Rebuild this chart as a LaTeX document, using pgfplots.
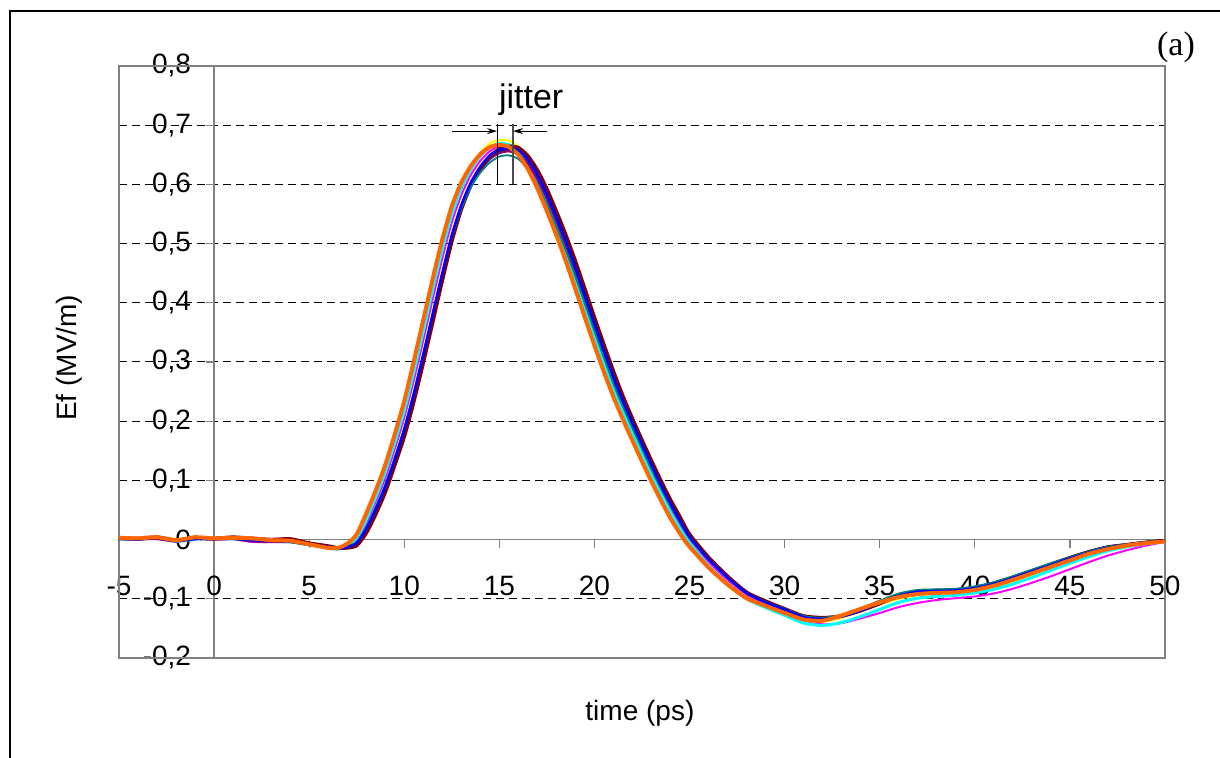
\documentclass[border=0pt]{standalone}
\usepackage{fontspec}
\setmainfont{Liberation Sans}
\newfontfamily\timesfont{Liberation Serif}
\usepackage{pgfplots}
\usepackage{pgfplotstable}
\pgfplotsset{compat=1.18}
\usetikzlibrary{arrows.meta}

\definecolor{xnavy}{HTML}{000080}
\definecolor{xmagenta}{HTML}{FF00FF}
\definecolor{xyellow}{HTML}{FFFF00}
\definecolor{xcyan}{HTML}{00FFFF}
\definecolor{xpurple}{HTML}{800080}
\definecolor{xmaroon}{HTML}{800000}
\definecolor{xteal}{HTML}{008080}
\definecolor{xblue}{HTML}{0000FF}
\definecolor{xorange}{HTML}{FF6600}

% Ef (MV/m) per shot, time in ps
\pgfplotstableread{
t     O      Y      C      M      T      P      N      B      R
-5    0.003  0.002  0.001  0.002  0.001  0.002  0.001  0.002  0.002
-4    0.002  0.000  0.002  0.001  0.000  0.001  0.001  0.000  0.002
-3    0.004  0.002  0.003  0.002  0.003  0.001  0.002  0.003  0.004
-2   -0.001 -0.002 -0.003 -0.002 -0.001 -0.003 -0.002 -0.002 -0.001
-1    0.004  0.002  0.001  0.002  0.002  0.001  0.002  0.001  0.003
0     0.002  0.000  0.001  0.000  0.001  0.000  0.001  0.002  0.002
1     0.003  0.002  0.001  0.001  0.002  0.001  0.002  0.002  0.004
2     0.002  0.001 -0.001 -0.004  0.000 -0.003  0.000 -0.001  0.002
3    -0.001 -0.002 -0.003 -0.004 -0.002 -0.004 -0.002 -0.002  0.000
4    -0.002 -0.003 -0.004 -0.004 -0.003 -0.004 -0.003 -0.003  0.001
5    -0.008 -0.008 -0.009 -0.009 -0.008 -0.009 -0.008 -0.008 -0.006
6    -0.014 -0.013 -0.014 -0.013 -0.012 -0.013 -0.012 -0.012 -0.011
6.5  -0.014 -0.015 -0.016 -0.015 -0.015 -0.016 -0.015 -0.015 -0.014
7    -0.007 -0.009 -0.009 -0.010 -0.011 -0.012 -0.013 -0.013 -0.014
7.5   0.009  0.003  0.003  0.000 -0.004 -0.006 -0.007 -0.006 -0.010
8     0.044  0.035  0.034  0.028  0.021  0.019  0.016  0.018  0.011
8.5   0.083  0.072  0.072  0.064  0.055  0.052  0.048  0.051  0.043
9     0.126  0.115  0.114  0.104  0.093  0.090  0.086  0.089  0.080
9.5   0.178  0.165  0.164  0.153  0.139  0.136  0.132  0.135  0.126
10    0.234  0.220  0.218  0.206  0.189  0.186  0.181  0.185  0.174
10.5  0.301  0.286  0.283  0.269  0.249  0.245  0.240  0.245  0.233
11    0.371  0.356  0.352  0.337  0.315  0.311  0.306  0.312  0.299
11.5  0.441  0.427  0.423  0.407  0.383  0.380  0.376  0.381  0.368
12    0.507  0.495  0.490  0.475  0.450  0.448  0.444  0.450  0.438
12.5  0.563  0.555  0.549  0.536  0.511  0.511  0.508  0.514  0.504
13    0.603  0.599  0.593  0.582  0.559  0.561  0.560  0.565  0.558
13.5  0.631  0.631  0.625  0.616  0.595  0.598  0.598  0.603  0.598
14    0.651  0.654  0.648  0.640  0.620  0.624  0.625  0.630  0.627
14.5  0.663  0.669  0.662  0.656  0.637  0.643  0.645  0.649  0.647
15    0.667  0.675  0.669  0.665  0.647  0.653  0.656  0.659  0.660
15.5  0.663  0.674  0.667  0.665  0.649  0.656  0.659  0.662  0.664
16    0.650  0.664  0.658  0.657  0.643  0.651  0.655  0.658  0.662
16.5  0.626  0.643  0.636  0.638  0.626  0.635  0.640  0.642  0.648
17    0.593  0.612  0.606  0.609  0.600  0.609  0.615  0.617  0.624
17.5  0.555  0.574  0.569  0.573  0.566  0.576  0.582  0.583  0.592
18    0.514  0.534  0.529  0.534  0.528  0.538  0.545  0.545  0.554
18.5  0.470  0.490  0.485  0.492  0.488  0.497  0.504  0.504  0.514
19    0.423  0.444  0.439  0.446  0.444  0.453  0.460  0.460  0.470
19.5  0.375  0.395  0.391  0.398  0.398  0.406  0.413  0.412  0.423
20    0.328  0.347  0.344  0.351  0.352  0.360  0.366  0.365  0.375
20.5  0.283  0.301  0.298  0.306  0.307  0.314  0.320  0.319  0.329
21    0.241  0.257  0.255  0.262  0.263  0.270  0.276  0.275  0.284
21.5  0.203  0.218  0.216  0.222  0.224  0.230  0.235  0.234  0.242
22    0.167  0.181  0.179  0.185  0.188  0.193  0.198  0.197  0.204
22.5  0.132  0.145  0.143  0.150  0.153  0.158  0.162  0.161  0.168
23    0.098  0.109  0.108  0.115  0.118  0.123  0.127  0.126  0.133
23.5  0.066  0.077  0.076  0.082  0.086  0.090  0.094  0.092  0.099
24    0.036  0.046  0.045  0.051  0.056  0.059  0.062  0.061  0.067
24.5  0.010  0.018  0.018  0.023  0.028  0.031  0.034  0.032  0.038
25   -0.012 -0.006 -0.006 -0.002  0.002  0.004  0.006  0.005  0.009
26   -0.047 -0.043 -0.044 -0.039 -0.034 -0.033 -0.032 -0.033 -0.030
27   -0.076 -0.073 -0.075 -0.069 -0.065 -0.064 -0.063 -0.064 -0.062
28   -0.099 -0.097 -0.100 -0.094 -0.090 -0.090 -0.089 -0.090 -0.089
29   -0.112 -0.112 -0.115 -0.109 -0.105 -0.105 -0.105 -0.106 -0.104
30   -0.124 -0.124 -0.128 -0.121 -0.117 -0.117 -0.118 -0.118 -0.117
31   -0.135 -0.136 -0.141 -0.136 -0.129 -0.130 -0.130 -0.131 -0.129
32   -0.137 -0.139 -0.145 -0.143 -0.132 -0.134 -0.133 -0.134 -0.132
33   -0.128 -0.132 -0.140 -0.141 -0.127 -0.129 -0.129 -0.130 -0.129
34   -0.117 -0.121 -0.130 -0.133 -0.116 -0.119 -0.119 -0.120 -0.120
35   -0.106 -0.110 -0.118 -0.124 -0.103 -0.106 -0.106 -0.107 -0.108
36   -0.097 -0.100 -0.106 -0.114 -0.091 -0.094 -0.093 -0.095 -0.095
37   -0.092 -0.094 -0.099 -0.107 -0.085 -0.087 -0.087 -0.088 -0.088
38   -0.090 -0.092 -0.096 -0.102 -0.084 -0.086 -0.086 -0.087 -0.086
39   -0.089 -0.091 -0.094 -0.099 -0.083 -0.085 -0.085 -0.086 -0.085
40   -0.085 -0.087 -0.090 -0.096 -0.079 -0.081 -0.081 -0.082 -0.081
41   -0.078 -0.080 -0.084 -0.091 -0.072 -0.074 -0.073 -0.075 -0.074
42   -0.068 -0.071 -0.075 -0.083 -0.062 -0.064 -0.063 -0.065 -0.064
43   -0.057 -0.060 -0.064 -0.073 -0.051 -0.053 -0.052 -0.054 -0.053
44   -0.046 -0.049 -0.052 -0.062 -0.040 -0.042 -0.041 -0.043 -0.042
45   -0.035 -0.037 -0.040 -0.050 -0.030 -0.031 -0.030 -0.032 -0.031
46   -0.024 -0.026 -0.029 -0.038 -0.020 -0.021 -0.020 -0.022 -0.021
47   -0.016 -0.017 -0.019 -0.027 -0.012 -0.013 -0.012 -0.014 -0.013
48   -0.010 -0.011 -0.012 -0.018 -0.008 -0.009 -0.008 -0.009 -0.009
49   -0.006 -0.006 -0.007 -0.010 -0.004 -0.005 -0.004 -0.005 -0.005
50   -0.003 -0.002 -0.003 -0.004 -0.002 -0.002 -0.001 -0.002 -0.002
}\shots

\begin{document}
\begin{tikzpicture}
\begin{axis}[
    scale only axis,
    width=523pt, height=296pt,
    xmin=-5, xmax=50, ymin=-0.2, ymax=0.8,
    axis x line*=middle, axis y line*=middle,
    axis line style={gray, line width=0.6pt},
    xtick={-5,0,...,50},
    ytick={-0.2,-0.1,0,0.1,0.2,0.3,0.4,0.5,0.6,0.7,0.8},
    hide obscured x ticks=false, hide obscured y ticks=false,
    tick align=outside, major tick length=4pt,
    tick style={gray, line width=0.6pt},
    ymajorgrids,
    grid style={black, dash pattern=on 4pt off 2.5pt, line width=0.5pt},
    tick label style={font=\fontsize{14}{16}\selectfont},
    xticklabel style={anchor=center, yshift=-19pt},
    yticklabel style={anchor=east, xshift=-4pt},
    /pgf/number format/.cd, fixed, precision=1, use comma, assume math mode=true,
    /pgfplots/.cd,
    xlabel={time (ps)}, ylabel={Ef (MV/m)},
    label style={font=\fontsize{14}{16}\selectfont},
    xlabel style={at={(axis description cs:0.498,-0.093)}, anchor=center},
    ylabel style={at={(axis description cs:-0.048,0.507)}, anchor=center, rotate=0},
    clip=false,
    every axis plot/.append style={no marks, smooth, tension=0.4},
]
\draw[gray, line width=0.6pt] (rel axis cs:0,0) rectangle (rel axis cs:1,1);
\addplot[xnavy, line width=1.3pt] table[x=t, y=N] {\shots};
\addplot[xmagenta, line width=1pt] table[x=t, y=M] {\shots};
\addplot[xyellow, line width=1pt] table[x=t, y=Y] {\shots};
\addplot[xcyan, line width=1.5pt] table[x=t, y=C] {\shots};
\addplot[xpurple, line width=1.2pt] table[x=t, y=P] {\shots};
\addplot[xmaroon, line width=1.8pt] table[x=t, y=R] {\shots};
\addplot[xteal, line width=0.9pt] table[x=t, y=T] {\shots};
\addplot[xblue, line width=1.3pt] table[x=t, y=B] {\shots};
\addplot[xorange, line width=2pt] table[x=t, y=O] {\shots};
% jitter marker
\draw[black, line width=0.5pt] (axis cs:14.88,0.702) -- (axis cs:14.88,0.6);
\draw[black!70, line width=0.8pt] (axis cs:15.72,0.702) -- (axis cs:15.72,0.6);
\draw[line width=0.5pt, -{Stealth[length=5pt,width=3pt]}] (axis cs:12.51,0.69) -- (axis cs:14.88,0.69);
\draw[line width=0.5pt, -{Stealth[length=5pt,width=3pt]}] (axis cs:17.51,0.69) -- (axis cs:15.72,0.69);
\node[font=\fontsize{17}{20}\selectfont] at (axis cs:16.67,0.743) {jitter};
\node[font=\timesfont\fontsize{17}{20}\selectfont] at (rel axis cs:1.0105,1.032) {(a)};
\end{axis}
\draw[line width=1.3pt] (-54.5pt,-80pt) -- (-54.5pt,323.5pt) -- (620pt,323.5pt);
\pgfresetboundingbox
\path[use as bounding box] (-59.5pt,-50pt) rectangle (550.5pt,329pt);
\end{tikzpicture}
\end{document}
